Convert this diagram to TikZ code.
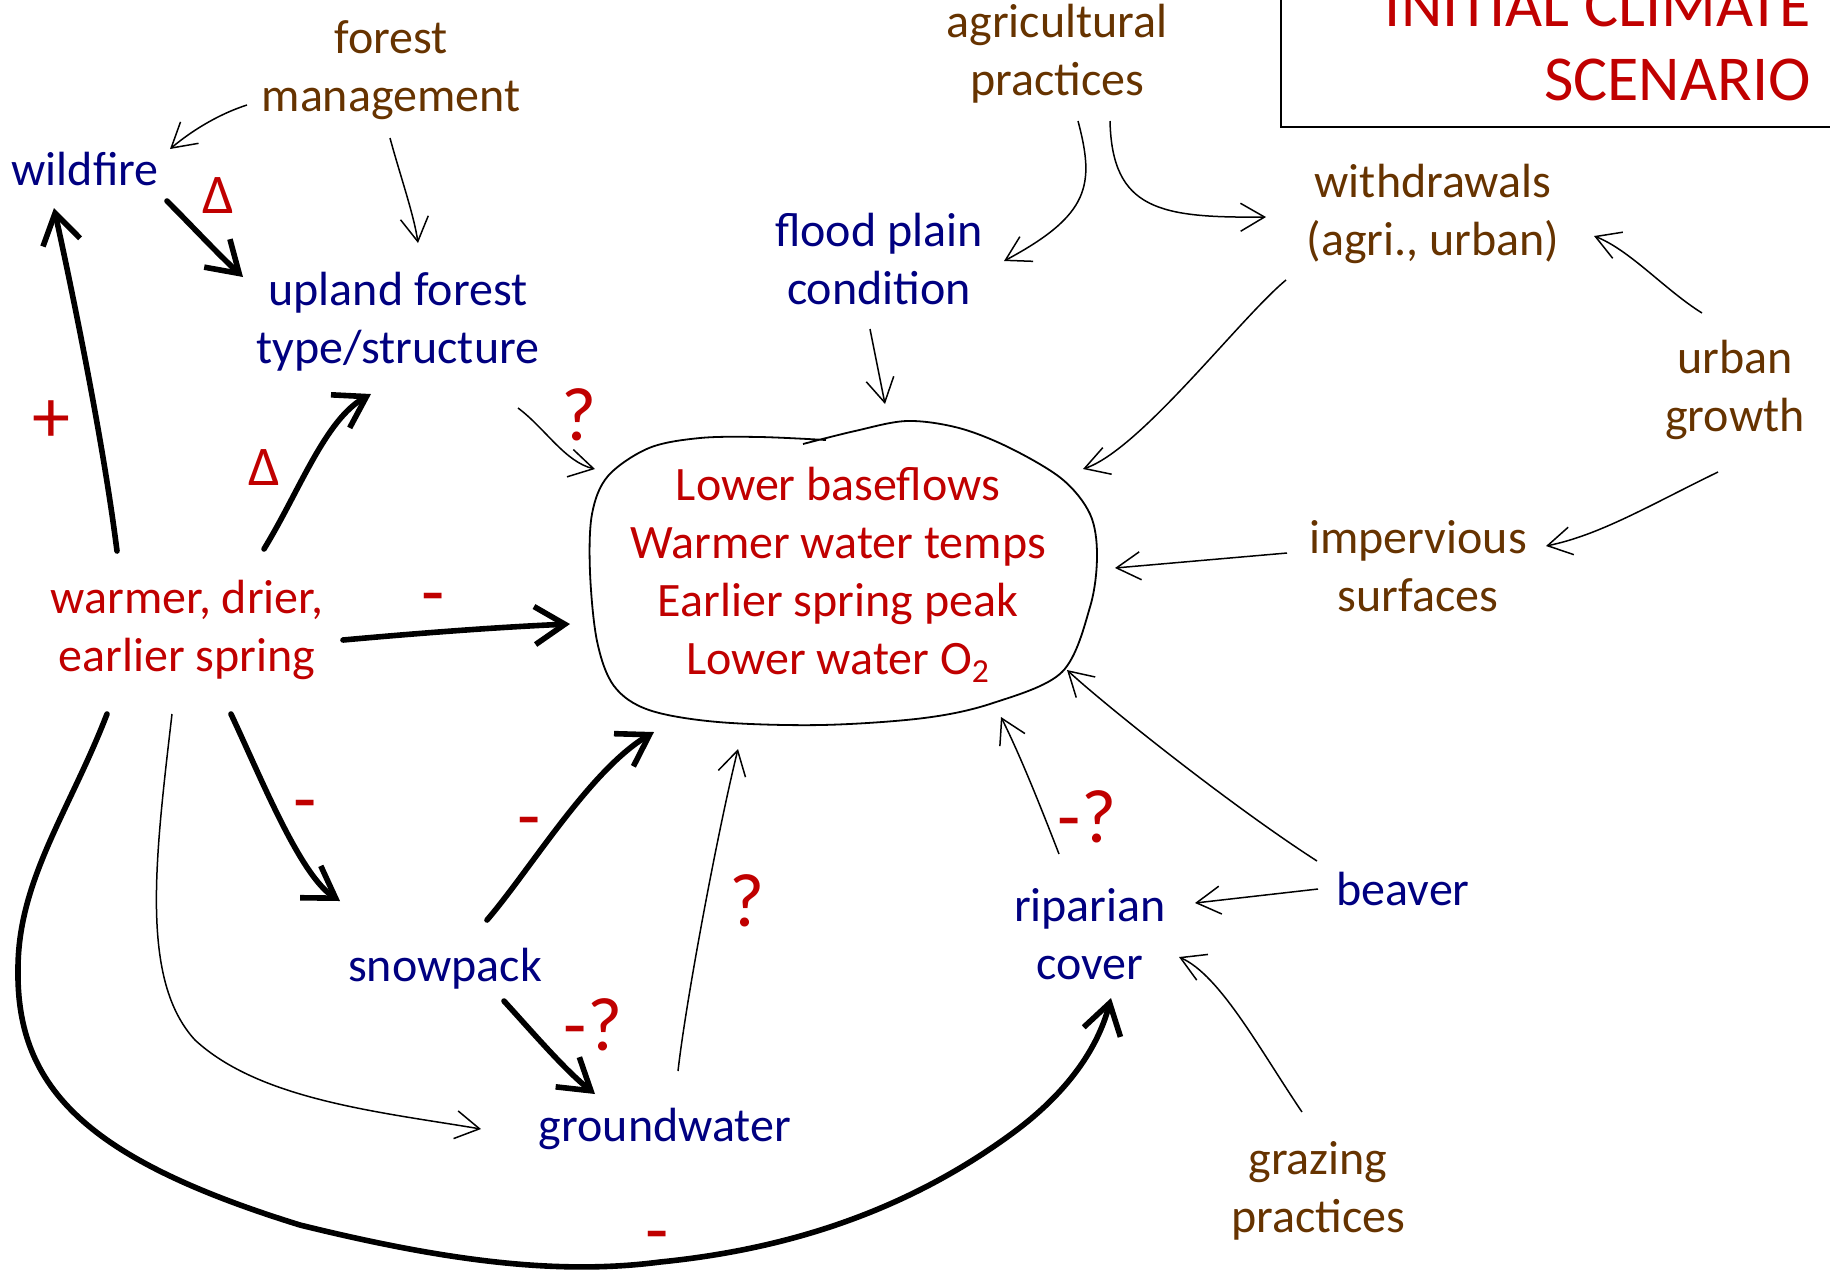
\documentclass[tikz,border=0pt]{standalone}
\usepackage{fontspec}
\setmainfont{Carlito}
\usetikzlibrary{arrows.meta,calc}
\definecolor{effred}{RGB}{192,0,0}
\definecolor{natblue}{RGB}{0,0,128}
\definecolor{humbrown}{RGB}{102,51,0}
\tikzset{
  factor/.style={align=center, font=\fontsize{24}{29}\selectfont, inner sep=0pt},
  natural/.style={factor, text=natblue},
  human/.style={factor, text=humbrown},
  climate/.style={factor, text=effred},
  sign/.style={text=effred, font=\fontsize{38}{44}\selectfont, inner sep=0pt},
  deltasign/.style={text=effred, font=\fontsize{28}{33}\selectfont, inner sep=0pt},
  strong/.style={line width=2.8pt, line cap=round, -{Straight Barb[length=15pt,width=19pt]}},
  weak/.style={line width=0.75pt, -{Straight Barb[length=12pt,width=14pt]}},
}
\begin{document}
\begin{tikzpicture}[x=0.5pt,y=-0.5pt]
\useasboundingbox (0,0) rectangle (1830,1276);

% title box
\draw[line width=1pt] (1281,-20) rectangle (1860,127);
\node[anchor=north east, align=right, text=effred, inner sep=0pt,
      font=\fontsize{32}{37}\selectfont] (title) at (1811,-15) {INITIAL CLIMATE\\SCENARIO};

% factors
\node[human]   (fm)     at (391,70)   {forest\\management};
\node[natural] (wild)   at (85,169)   {wildfire};
\node[natural] (upl)    at (398,322)  {upland forest\\type/structure};
\node[human]   (agri)   at (1057,54)  {agricultural\\practices};
\node[natural] (flood)  at (879,259)  {flood plain\\condition};
\node[human]   (withd)  at (1433,214) {withdrawals\\(agri., urban)};
\node[human]   (urban)  at (1735,390) {urban\\growth};
\node[human]   (imperv) at (1418,566) {impervious\\surfaces};
\node[climate] (out)    at (838,575)  {Lower baseflows\\Warmer water temps\\Earlier spring peak\\Lower water O\textsubscript{2}};
\node[climate] (warm)   at (187,630)  {warmer, drier,\\earlier spring};
\node[natural] (snow)   at (445,969)  {snowpack};
\node[natural] (gw)     at (665,1129) {groundwater};
\node[natural] (rip)    at (1090,934) {riparian\\cover};
\node[natural] (beav)   at (1403,889) {beaver};
\node[human]   (graz)   at (1318,1191) {grazing\\practices};

% outline around the stream responses
\draw[line width=0.9pt] plot[smooth, tension=0.55] coordinates {
  (826,440) (760,437) (700,438) (649,448) (608,476) (592,514) (590,572)
  (597,641) (614,686) (649,710) (718,722) (821,725) (924,718) (993,703)
  (1062,672) (1090,607) (1097,555) (1090,514) (1062,479) (1010,448)
  (959,428) (907,421) (855,431) (803,444)};

% strong climate links
\draw[strong] ($(wild)+(82,32)$) .. controls (192,226) and (218,254) .. ($(upl)+(-155,-45)$);
\draw[strong] ($(warm)+(-70,-79)$) .. controls (103,440) and (72,290) .. ($(wild)+(-31,39)$);
\draw[strong] ($(warm)+(77,-81)$) .. controls (300,490) and (325,420) .. ($(upl)+(-27,72)$);
\draw[strong] ($(warm)+(156,10)$) .. controls (420,633) and (500,627) .. ($(out)+(-268,49)$);
\draw[strong] ($(warm)+(44,84)$) .. controls (262,780) and (300,875) .. ($(snow)+(-105,-68)$);
\draw[strong] ($(warm)+(-80,84)$) .. controls (70,810) and (18,880) .. (18,969)
  .. controls (16,1090) and (90,1160) .. (300,1225)
  .. controls (450,1262) and (560,1275) .. (660,1262)
  .. controls (780,1250) and (900,1215) .. (1010,1135)
  .. controls (1075,1088) and (1100,1040) .. ($(rip)+(21,64)$);
\draw[strong] ($(snow)+(42,-49)$) .. controls (530,870) and (590,770) .. ($(out)+(-184,157)$);
\draw[strong] ($(snow)+(59,32)$) .. controls (535,1035) and (565,1070) .. ($(gw)+(-70,-35)$);

% weaker links
\draw[weak] ($(fm)+(-144,35)$) .. controls (222,113) and (195,128) .. ($(wild)+(85,-20)$);
\draw[weak] ($(fm)+(-1,68)$) .. controls (400,175) and (414,215) .. ($(upl)+(20,-79)$);
\draw[weak] ($(upl)+(120,86)$) .. controls (545,428) and (565,462) .. ($(out)+(-243,-106)$);
\draw[weak] ($(warm)+(-15,84)$) .. controls (155,860) and (140,980) .. (195,1040)
  .. controls (260,1100) and (380,1112) .. ($(gw)+(-184,0)$);
\draw[weak] ($(gw)+(13,-58)$) .. controls (686,1000) and (718,830) .. ($(out)+(-100,174)$);
\draw[weak] ($(rip)+(-31,-80)$) .. controls (1040,805) and (1020,755) .. ($(out)+(163,142)$);
\draw[weak] ($(beav)+(-86,-28)$) .. controls (1230,805) and (1105,705) .. ($(out)+(229,95)$);
\draw[weak] ($(beav)+(-85,0)$) -- ($(rip)+(105,-31)$);
\draw[weak] ($(graz)+(-16,-79)$) .. controls (1260,1050) and (1220,975) .. ($(rip)+(89,23)$);
\draw[weak] ($(imperv)+(-131,-13)$) -- ($(out)+(277,-7)$);
\draw[weak] ($(urban)+(-17,82)$) .. controls (1650,505) and (1600,535) .. ($(imperv)+(128,-20)$);
\draw[weak] ($(urban)+(-33,-77)$) .. controls (1665,290) and (1630,250) .. ($(withd)+(161,22)$);
\draw[weak] ($(withd)+(-147,66)$) .. controls (1240,318) and (1140,450) .. ($(out)+(245,-106)$);
\draw[weak] ($(agri)+(53,67)$) .. controls (1112,210) and (1160,218) .. ($(withd)+(-167,3)$);
\draw[weak] ($(agri)+(21,67)$) .. controls (1095,185) and (1090,215) .. ($(flood)+(125,2)$);
\draw[weak] ($(flood)+(-9,70)$) -- ($(out)+(47,-171)$);

% link signs
\node[deltasign] (d1) at (218,196) {Δ};
\node[sign] (plus) at (51,422) {+};
\node[deltasign] (d2) at (264,468) {Δ};
\node[sign] (q1) at (579,415) {?};
\node[sign, anchor=base] (m1) at (433,617) {-};
\node[sign, anchor=base] (m2) at (305,824) {-};
\node[sign, anchor=base] (m3) at (529,841) {-};
\node[sign] (q2) at (747,901) {?};
\node[sign] (mq1) at (593,1025) {-?};
\node[sign] (mq2) at (1087,817) {-?};
\node[sign, anchor=base] (m4) at (657,1255) {-};
\end{tikzpicture}
\end{document}
